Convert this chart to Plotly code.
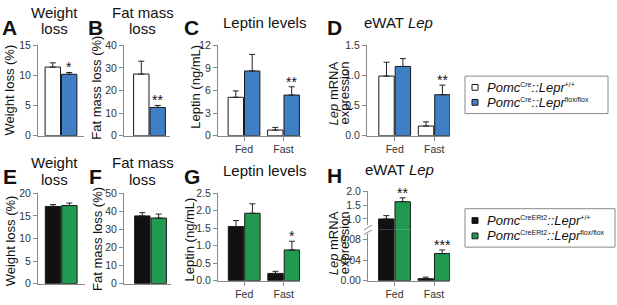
import plotly.graph_objects as go

W, H = 617, 305
FONT = "Liberation Sans, Arial, Helvetica, sans-serif"

# ---------------- data ----------------
single = ["all"]
groups = ["Fed", "Fast"]

# top row: Pomc-Cre
A_ctrl, A_ctrl_err = [11.4], [0.7]
A_mut, A_mut_err = [10.2], [0.3]
B_ctrl, B_ctrl_err = [27.3], [5.7]
B_mut, B_mut_err = [12.5], [0.9]
C_ctrl, C_ctrl_err = [5.1, 0.75], [0.85, 0.35]
C_mut, C_mut_err = [8.6, 5.4], [2.2, 1.1]
D_ctrl, D_ctrl_err = [0.99, 0.16], [0.23, 0.07]
D_mut, D_mut_err = [1.15, 0.68], [0.13, 0.16]
# bottom row: Pomc-CreERt2
E_ctrl, E_ctrl_err = [17.1], [0.4]
E_mut, E_mut_err = [17.3], [0.55]
F_ctrl, F_ctrl_err = [37.5], [1.8]
F_mut, F_mut_err = [36.3], [2.2]
G_ctrl, G_ctrl_err = [1.55, 0.21], [0.17, 0.06]
G_mut, G_mut_err = [1.93, 0.88], [0.27, 0.25]
H_ctrl, H_ctrl_err = [1.0, 0.004], [0.12, 0.003]
H_mut, H_mut_err = [1.62, 0.053], [0.14, 0.007]

# significance labels (mutant vs control), one per category
A_sig = ["*"]
B_sig = ["**"]
C_sig = ["", "**"]
D_sig = ["", "**"]
E_sig = [""]
F_sig = [""]
G_sig = ["", "*"]
H_sig = ["**", "***"]

SUP = "<sup><span style='font-size:7px'>%s</span></sup>"
legend_top = ["<i>Pomc</i>" + SUP % "Cre" + "<i>::Lepr</i>" + SUP % "+/+",
              "<i>Pomc</i>" + SUP % "Cre" + "<i>::Lepr</i>" + SUP % "flox/flox"]
legend_bot = ["<i>Pomc</i>" + SUP % "CreERt2" + "<i>::Lepr</i>" + SUP % "+/+",
              "<i>Pomc</i>" + SUP % "CreERt2" + "<i>::Lepr</i>" + SUP % "flox/flox"]

# ---------------- style ----------------
COL_CTRL_TOP = "#FFFFFF"
COL_MUT_TOP = "#3F7FC4"
COL_CTRL_BOT = "#111111"
COL_MUT_BOT = "#1F9A50"
AXC = "#8a8a8a"
TICKC = "#333333"
BARGAP = 0.17
UNIT = 39.5


def px(x):
    return x / W


def py(y):
    return 1 - y / H


def lk(axid):
    return axid[0] + "axis" + axid[1:]


fig = go.Figure()
annotations = []
shapes = []

panels = [
    dict(xa="x", ya="y", xdom=(38, 84), ydom=(41, 135), c0=61, cats=single,
         ctrl=(A_ctrl, A_ctrl_err), mut=(A_mut, A_mut_err), sig=A_sig, top=True,
         yr=[0, 15], tv=[0, 5, 10, 15], fmt="d", xt=False),
    dict(xa="x2", ya="y2", xdom=(124, 170), ydom=(41, 135), c0=149.5, cats=single,
         ctrl=(B_ctrl, B_ctrl_err), mut=(B_mut, B_mut_err), sig=B_sig, top=True,
         yr=[0, 40], tv=[0, 10, 20, 30, 40], fmt="d", xt=False),
    dict(xa="x3", ya="y3", xdom=(218, 301), ydom=(41, 135), c0=244, cats=groups,
         ctrl=(C_ctrl, C_ctrl_err), mut=(C_mut, C_mut_err), sig=C_sig, top=True,
         yr=[0, 12], tv=[0, 3, 6, 9, 12], fmt="d", xt=True),
    dict(xa="x4", ya="y4", xdom=(367, 450), ydom=(41, 135), c0=394.7, cats=groups,
         ctrl=(D_ctrl, D_ctrl_err), mut=(D_mut, D_mut_err), sig=D_sig, top=True,
         yr=[0, 1.5], tv=[0, 0.5, 1.0, 1.5], fmt=".1f", xt=True),
    dict(xa="x5", ya="y5", xdom=(38, 85), ydom=(195, 289), c0=61.2, cats=single,
         ctrl=(E_ctrl, E_ctrl_err), mut=(E_mut, E_mut_err), sig=E_sig, top=False,
         yr=[0, 20], tv=[0, 5, 10, 15, 20], fmt="d", xt=False),
    dict(xa="x6", ya="y6", xdom=(124, 171), ydom=(195, 289), c0=150.5, cats=single,
         ctrl=(F_ctrl, F_ctrl_err), mut=(F_mut, F_mut_err), sig=F_sig, top=False,
         yr=[0, 50], tv=[0, 10, 20, 30, 40, 50], fmt="d", xt=False),
    dict(xa="x7", ya="y7", xdom=(218, 300), ydom=(195, 286), c0=244.2, cats=groups,
         ctrl=(G_ctrl, G_ctrl_err), mut=(G_mut, G_mut_err), sig=G_sig, top=False,
         yr=[0, 2.5], tv=[0, 0.5, 1.0, 1.5, 2.0, 2.5], fmt=".1f", xt=True),
]


def add_pair(xa, ya, cats, ctrl, mut, top):
    cc = COL_CTRL_TOP if top else COL_CTRL_BOT
    mc = COL_MUT_TOP if top else COL_MUT_BOT
    for (vals, errs), col in ((ctrl, cc), (mut, mc)):
        fig.add_trace(go.Bar(
            x=cats, y=vals, xaxis=xa, yaxis=ya,
            marker=dict(color=col, line=dict(color="#1a1a1a", width=1)),
            error_y=dict(type="data", symmetric=False, array=errs,
                         arrayminus=[0] * len(errs), color="#222222",
                         thickness=1, width=3),
            showlegend=False, hoverinfo="skip",
        ))


def yaxis_style(ya_dom, yr, tv, fmt, anchor):
    return dict(domain=[py(ya_dom[1]), py(ya_dom[0])], range=yr, anchor=anchor,
                tickvals=tv, tickformat=fmt, showline=True, linecolor=AXC,
                linewidth=1, ticks="outside", ticklen=4, tickcolor=AXC,
                tickwidth=1, tickfont=dict(size=10.5, color=TICKC, family=FONT),
                showgrid=False, zeroline=False, fixedrange=True)


def xaxis_style(xdom, c0, unit, anchor, xt):
    d = dict(domain=[px(xdom[0]), px(xdom[1])], anchor=anchor, type="category",
             range=[(xdom[0] - c0) / unit, (xdom[1] - c0) / unit],
             showline=True, linecolor=AXC, linewidth=1, showgrid=False,
             zeroline=False, fixedrange=True)
    if xt:
        d.update(ticks="outside", ticklen=4, tickcolor=AXC, tickwidth=1,
                 showticklabels=True,
                 tickfont=dict(size=10.5, color=TICKC, family=FONT))
    else:
        d.update(ticks="", showticklabels=False)
    return d


def add_sig(xa, ya, cats, mut, sig):
    vals, errs = mut
    shift = (1 - BARGAP) / 4 * UNIT
    for c, v, e, s in zip(cats, vals, errs, sig):
        if s:
            annotations.append(dict(
                x=c, y=v + e, xref=xa, yref=ya, text=s, showarrow=False,
                xanchor="center", yanchor="bottom", xshift=shift, yshift=-5,
                font=dict(size=14, color="#111111", family=FONT)))


layout_axes = {}
for p in panels:
    add_pair(p["xa"], p["ya"], p["cats"], p["ctrl"], p["mut"], p["top"])
    layout_axes[lk(p["xa"])] = xaxis_style(p["xdom"], p["c0"], UNIT, p["ya"], p["xt"])
    layout_axes[lk(p["ya"])] = yaxis_style(p["ydom"], p["yr"], p["tv"], p["fmt"], p["xa"])
    add_sig(p["xa"], p["ya"], p["cats"], p["mut"], p["sig"])

# ---- panel H: broken y axis (lower 0-0.1, upper 1-2) ----
H_break = 233
for ya, ydom, yr, tv, fmt in (("y8", (H_break, 286), [0, 0.0993], [0, 0.04, 0.08], ".2f"),
                              ("y9", (192.7, H_break), [0.61, 2.0], [1.0, 1.5, 2.0], ".1f")):
    add_pair("x8", ya, groups, (H_ctrl, H_ctrl_err), (H_mut, H_mut_err), False)
    layout_axes[lk(ya)] = yaxis_style(ydom, yr, tv, fmt, "x8")
layout_axes["xaxis8"] = xaxis_style((368, 450), 394.5, UNIT, "y8", True)
shiftH = (1 - BARGAP) / 4 * UNIT
for c, v, e, s, ya in zip(groups, H_mut, H_mut_err, H_sig, ("y9", "y8")):
    annotations.append(dict(x=c, y=v + e, xref="x8", yref=ya, text=s, showarrow=False,
                            xanchor="center", yanchor="bottom", xshift=shiftH, yshift=-5,
                            font=dict(size=14, color="#111111", family=FONT)))

# break marks on H axis
shapes.append(dict(type="rect", xref="paper", yref="paper", x0=px(364), x1=px(372),
                   y0=py(237), y1=py(228), fillcolor="white", line=dict(width=0), layer="above"))
for y0 in (231, 236):
    shapes.append(dict(type="line", xref="paper", yref="paper", x0=px(364), x1=px(372),
                       y0=py(y0 + 2), y1=py(y0 - 3), line=dict(color=AXC, width=1), layer="above"))


# ---------------- text ----------------
def txt(x, y, text, size, bold=False, angle=0, xanchor="center", color="#111111"):
    t = "<b>%s</b>" % text if bold else text
    annotations.append(dict(x=px(x), y=py(y), xref="paper", yref="paper", text=t,
                            showarrow=False, xanchor=xanchor, yanchor="middle",
                            textangle=angle,
                            font=dict(size=size, color=color, family=FONT)))


def base(b, fs):
    return b - 0.35 * fs


for L, x, b in (("A", 0, 30), ("B", 86, 30), ("C", 182, 30), ("D", 325, 30),
                ("E", 1, 185), ("F", 87, 185), ("G", 182, 185), ("H", 325, 184)):
    txt(x, base(b, 21), L, 21, bold=True, xanchor="left")

TF = 15
for x, b, t in ((54, 12, "Weight"), (54, 29, "loss"),
                (143, 12, "Fat mass"), (142, 29, "loss"),
                (264, 22, "Leptin levels"), (398, 22, "eWAT <i>Lep</i>"),
                (54, 168, "Weight"), (54, 186, "loss"),
                (143, 168, "Fat mass"), (142, 186, "loss"),
                (264, 177, "Leptin levels"), (399, 175, "eWAT <i>Lep</i>")):
    txt(x, base(b, TF), t, TF)

YF = 13
for x, y, t in ((10, 88, "Weight loss (%)"), (97, 85, "Fat mass loss (%)"),
                (196, 84, "Leptin (ng/mL)"), (333, 91, "<i>Lep</i> mRNA"), (344, 91, "expression"),
                (10, 245, "Weight loss (%)"), (97.5, 243, "Fat mass loss (%)"),
                (189, 243, "Leptin (ng/mL)"), (333, 247, "<i>Lep</i> mRNA"), (344, 247, "expression")):
    txt(x, y, t, YF, angle=-90)

for (bx0, by0, bx1, by1), rows, names, cols in (
        ((465, 73, 608, 112), (84.7, 100.3), legend_top, (COL_CTRL_TOP, COL_MUT_TOP)),
        ((465, 211, 615, 251), (223.3, 239.3), legend_bot, (COL_CTRL_BOT, COL_MUT_BOT))):
    shapes.append(dict(type="rect", xref="paper", yref="paper", x0=px(bx0), x1=px(bx1),
                       y0=py(by1), y1=py(by0), line=dict(color="#8a8a8a", width=1),
                       fillcolor="rgba(0,0,0,0)"))
    for ry, name, col in zip(rows, names, cols):
        shapes.append(dict(type="rect", xref="paper", yref="paper", x0=px(472), x1=px(478),
                           y0=py(ry + 3), y1=py(ry - 3), fillcolor=col,
                           line=dict(color="#1a1a1a", width=1)))
        txt(485, ry, name, 13, xanchor="left")

fig.update_layout(
    width=W, height=H, margin=dict(l=0, r=0, t=0, b=0),
    paper_bgcolor="white", plot_bgcolor="white", showlegend=False,
    barmode="group", bargap=BARGAP, bargroupgap=0.06,
    font=dict(family=FONT, color="#111111"),
    annotations=annotations, shapes=shapes,
    **layout_axes,
)

fig.write_html("out.html", config={"displayModeBar": False, "staticPlot": True},
               post_script="document.body.style.margin='0';document.body.style.overflow='hidden';")
